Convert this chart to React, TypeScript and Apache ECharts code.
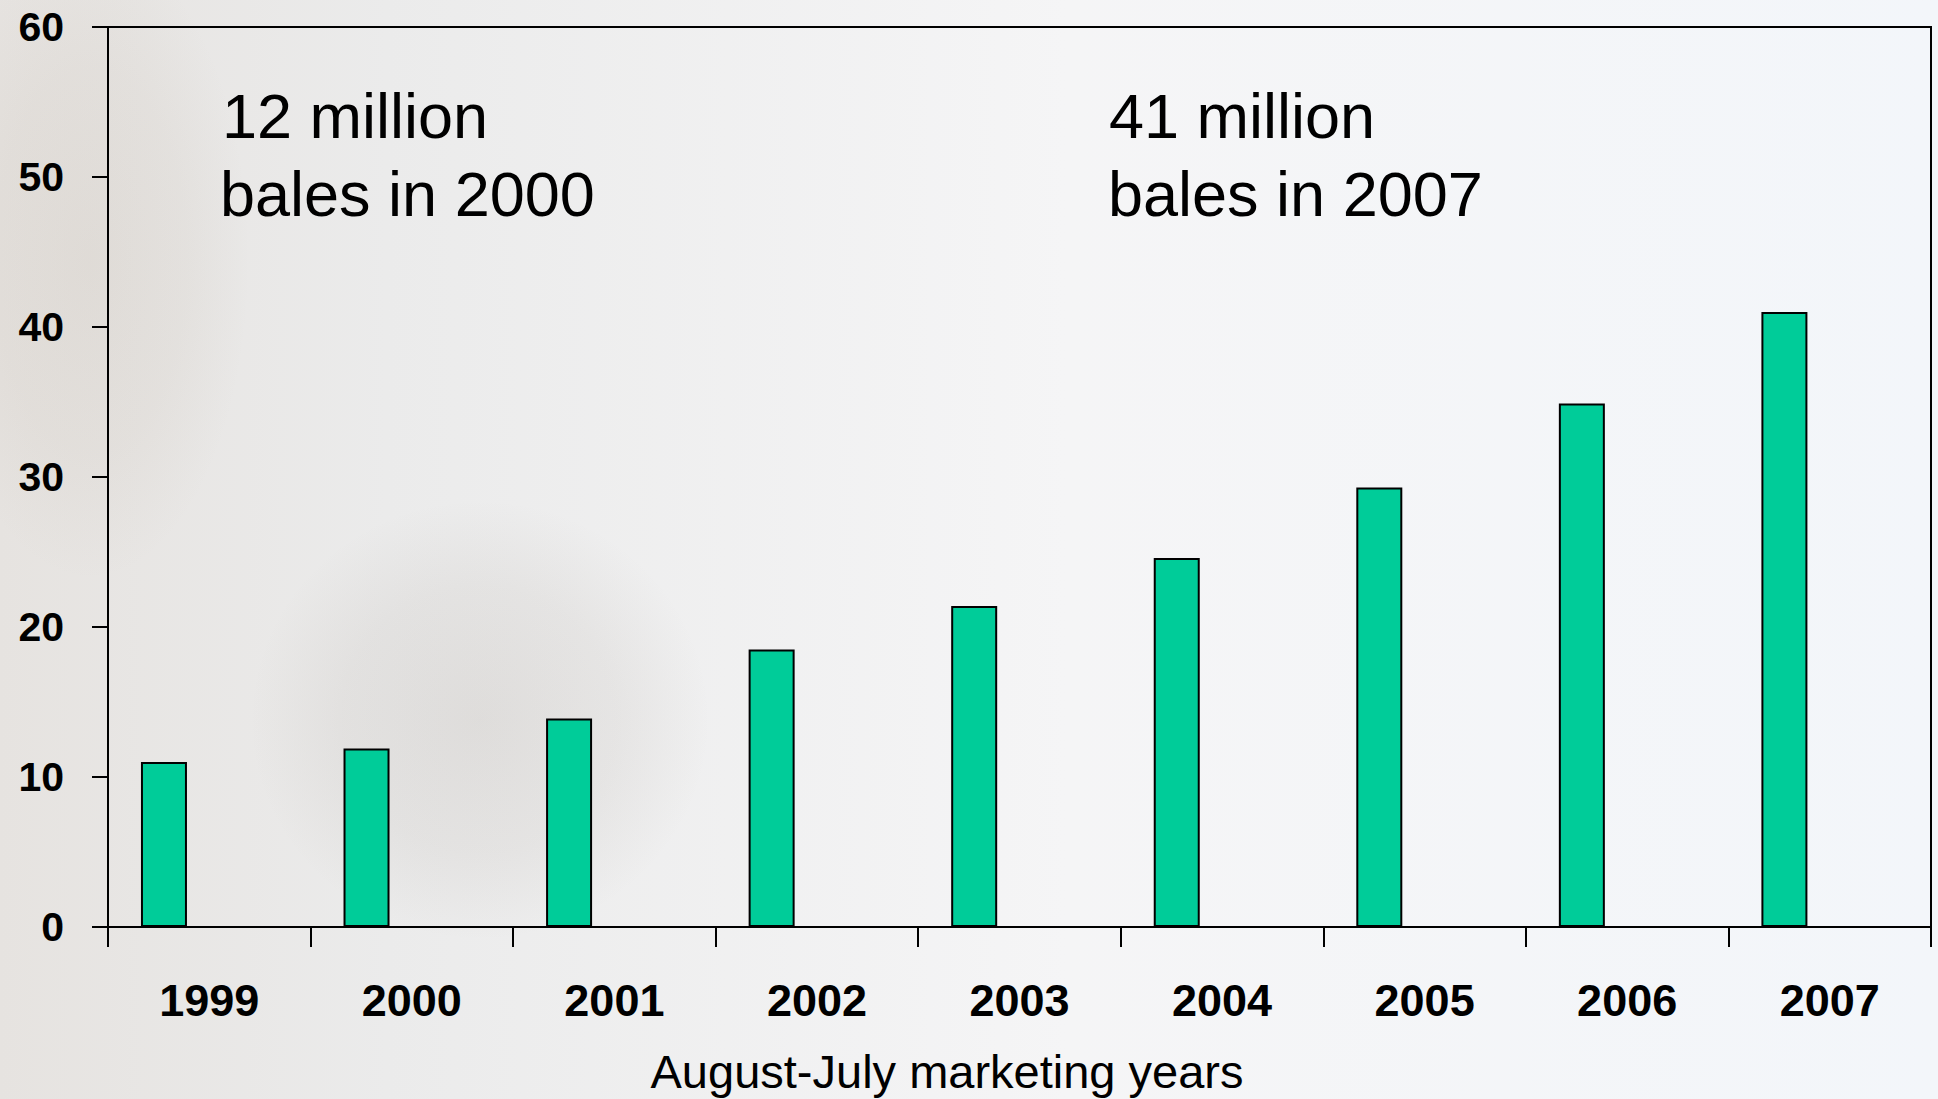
import React, { useEffect, useRef } from "react";
import * as echarts from "echarts";

const years = ["1999", "2000", "2001", "2002", "2003", "2004", "2005", "2006", "2007"];
const bales = [11.0, 11.9, 13.9, 18.5, 21.4, 24.6, 29.3, 34.9, 41.0];
const emptySeries = [null, null, null, null, null, null, null, null, null];
const yTicks = { min: 0, max: 60, interval: 10 };
const noteLeft = ["12 million", "bales in 2000"];
const noteRight = ["41 million", "bales in 2007"];
const xTitle = "August-July marketing years";

const FONT = "'Liberation Sans', Arial, sans-serif";

const softBlob = (color: string, alpha: number) => ({
  type: "radial",
  x: 0.5,
  y: 0.5,
  r: 0.5,
  colorStops: [
    { offset: 0, color: `rgba(${color},${alpha})` },
    { offset: 0.6, color: `rgba(${color},${alpha * 0.6})` },
    { offset: 1, color: `rgba(${color},0)` },
  ],
});

export default function App() {
  const ref = useRef<HTMLDivElement>(null);
  useEffect(() => {
    if (!ref.current) return;
    const chart = echarts.init(ref.current, undefined, { renderer: "svg" });
    const noteText = (x: number, y: number, text: string) => ({
      type: "text",
      x,
      y,
      style: {
        text,
        fontFamily: FONT,
        fontSize: 63,
        fill: "#000",
        verticalAlign: "middle",
        align: "left",
      },
      z: 10,
    });
    chart.setOption({
      animation: false,
      backgroundColor: {
        type: "linear",
        x: 0,
        y: 0,
        x2: 1,
        y2: 0,
        colorStops: [
          { offset: 0, color: "#e6e3e0" },
          { offset: 0.2, color: "#ebebeb" },
          { offset: 0.55, color: "#f5f5f6" },
          { offset: 1, color: "#f3f6fa" },
        ],
      },
      graphic: [
        {
          type: "ellipse",
          shape: { cx: 480, cy: 720, rx: 230, ry: 220 },
          style: { fill: softBlob("120,105,90", 0.12) },
          z: -10,
          silent: true,
        },
        {
          type: "ellipse",
          shape: { cx: 90, cy: 260, rx: 160, ry: 320 },
          style: { fill: softBlob("150,130,105", 0.1) },
          z: -10,
          silent: true,
        },
        noteText(222, 116, noteLeft[0]),
        noteText(220, 194, noteLeft[1]),
        noteText(1109, 116, noteRight[0]),
        noteText(1108, 194, noteRight[1]),
        {
          type: "text",
          x: 947,
          y: 1071,
          style: {
            text: xTitle,
            fontFamily: FONT,
            fontSize: 47,
            fill: "#000",
            align: "center",
            verticalAlign: "middle",
          },
          z: 10,
        },
      ],
      grid: {
        left: 108,
        top: 27,
        right: 7,
        bottom: 172,
        show: true,
        borderColor: "#000",
        borderWidth: 2,
        backgroundColor: "transparent",
      },
      xAxis: {
        type: "category",
        data: years,
        boundaryGap: true,
        axisLine: { show: true, lineStyle: { color: "#000", width: 2 } },
        axisTick: { show: true, length: 20, lineStyle: { color: "#000", width: 2 } },
        axisLabel: {
          color: "#000",
          fontFamily: FONT,
          fontWeight: "bold",
          fontSize: 45,
          margin: 51,
        },
        splitLine: { show: false },
      },
      yAxis: {
        type: "value",
        min: yTicks.min,
        max: yTicks.max,
        interval: yTicks.interval,
        axisLine: { show: true, lineStyle: { color: "#000", width: 2 } },
        axisTick: { show: true, length: 16, lineStyle: { color: "#000", width: 2 } },
        axisLabel: {
          color: "#000",
          fontFamily: FONT,
          fontWeight: "bold",
          fontSize: 41,
          margin: 44,
        },
        splitLine: { show: false },
      },
      series: [
        {
          type: "bar",
          data: bales,
          barWidth: 46,
          barGap: "97%",
          itemStyle: { color: "#00cc99", borderColor: "#000", borderWidth: 2 },
        },
        {
          type: "bar",
          data: emptySeries,
          barWidth: 46,
          itemStyle: { color: "#00cc99" },
        },
      ],
    });
    return () => chart.dispose();
  }, []);
  return (
    <div
      ref={ref}
      style={{ position: "fixed", left: 0, top: 0, width: 1938, height: 1099 }}
    />
  );
}
